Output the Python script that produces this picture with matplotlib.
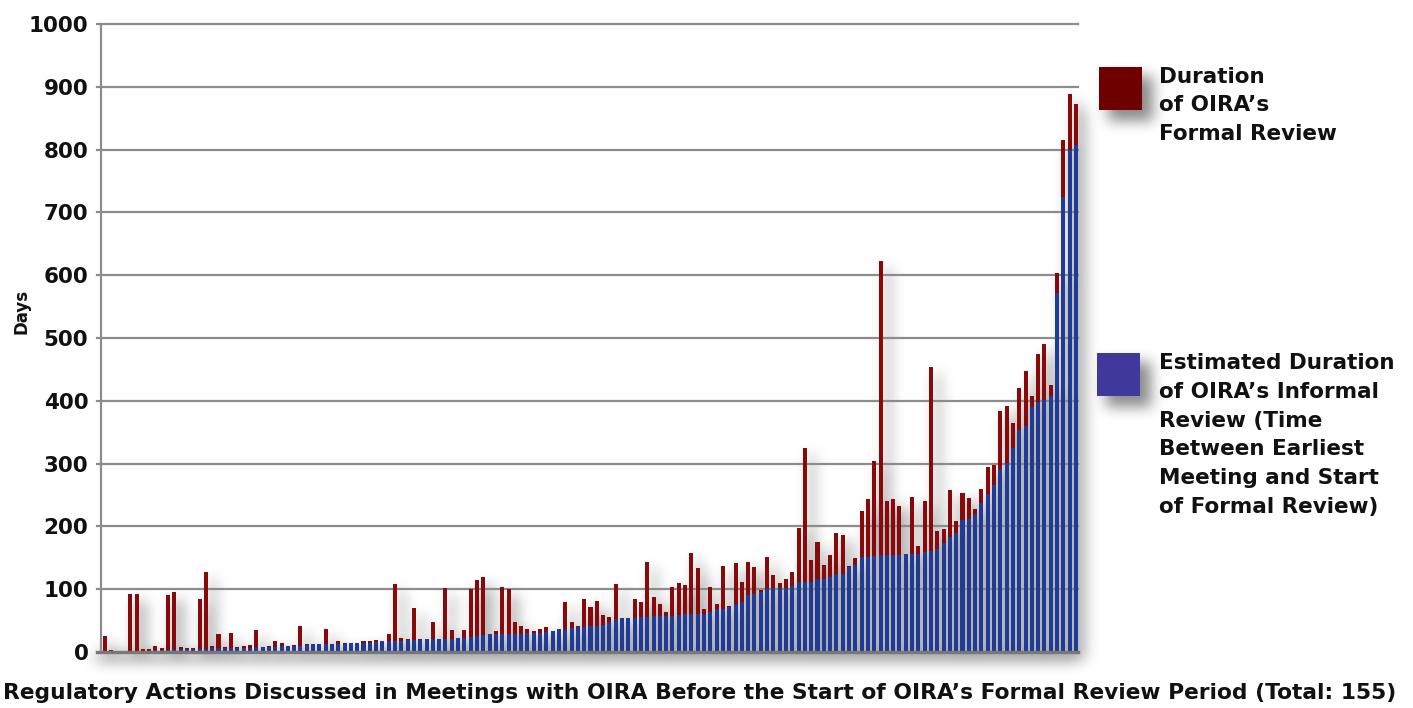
import numpy as np
import matplotlib
matplotlib.use("Agg")
import matplotlib.pyplot as plt
from matplotlib.patches import Rectangle

# ---------------- data ----------------
total_days = [
    25, 3, 1, 1, 92, 92, 4, 4, 10, 6, 91, 95, 8, 7, 7, 85, 128, 9, 28, 8, 31, 8, 9, 11, 35, 8,
    9, 17, 15, 10, 11, 42, 12, 12, 12, 36, 13, 17, 15, 15, 14, 18, 18, 19, 17, 29, 108, 23, 20, 70,
    20, 20, 48, 20, 102, 35, 23, 35, 100, 114, 119, 28, 34, 103, 101, 47, 41, 37, 33, 37, 40, 34, 36,
    79, 48, 42, 85,
    72, 82, 59, 56, 109, 54, 54, 85, 79, 143, 87, 77, 64, 103, 110, 106, 158, 134, 69, 104, 77, 137,
    73, 142, 112,
    144, 135, 98, 152, 122, 110, 116, 127, 198, 325, 147, 175, 139, 155, 189, 187, 137, 149, 224, 243,
    304, 622, 241, 244, 233,
    156, 247, 169, 240, 454, 193, 196, 258, 208, 253, 245, 227, 260, 295, 297, 384, 391, 365, 420, 447,
    407, 474, 490, 425,
    603, 816, 889, 873,
]
informal_days = [
    0, 1, 1, 1, 1, 1, 2, 2, 3, 3, 3, 4, 4, 4, 5, 5, 5, 6, 6, 6, 6, 7, 7, 7, 8, 8,
    8, 8, 9, 10, 10, 10, 11, 12, 12, 12, 13, 13, 13, 14, 14, 15, 15, 16, 17, 17, 17, 18, 19, 19,
    19, 20, 20, 20, 20, 21, 23, 23, 24, 25, 27, 28, 28, 28, 28, 28, 29, 30, 31, 31, 32, 34, 36,
    36, 38, 40, 40,
    41, 41, 43, 47, 52, 54, 54, 54, 55, 55, 57, 57, 57, 58, 59, 60, 60, 61, 61, 64, 69, 69, 71,
    77, 80,
    91, 93, 96, 100, 102, 102, 102, 105, 111, 111, 111, 116, 117, 120, 124, 125, 136, 139, 151, 152,
    153, 154, 154, 154, 154,
    156, 156, 156, 159, 161, 164, 173, 183, 189, 210, 211, 219, 237, 251, 266, 291, 301, 325, 354, 360,
    390, 398, 401, 407,
    571, 724, 799, 807,
]
formal_days = [t - i for t, i in zip(total_days, informal_days)]
y_ticks = [0, 100, 200, 300, 400, 500, 600, 700, 800, 900, 1000]
legend_formal = "Duration\nof OIRA\u2019s\nFormal Review"
legend_informal = ("Estimated Duration\nof OIRA\u2019s Informal\nReview (Time\n"
                   "Between Earliest\nMeeting and Start\nof Formal Review)")
x_title = ("Regulatory Actions Discussed in Meetings with OIRA Before the Start of "
           "OIRA\u2019s Formal Review Period (Total: 155)")
y_title = "Days"

# ---------------- style ----------------
RED = "#880909"
BLUE = "#1f3b96"
LEG_RED = "#6e0000"
LEG_BLUE = "#40389a"
GRID = "#8c8c8c"
W, H = 1413, 708
DPI = 100
plt.rcParams["font.family"] = ["DejaVu Sans"]
plt.rcParams["font.weight"] = "bold"

fig = plt.figure(figsize=(W / DPI, H / DPI), dpi=DPI)
fig.patch.set_facecolor("white")
n = len(total_days)
x = np.arange(1, n + 1)
px_per = (1076 - 105) / (n - 1)
left_px, right_px, bot_px, top_px = 101, 1078, 652, 24
ax = fig.add_axes([left_px / W, 1 - bot_px / H, (right_px - left_px) / W, (bot_px - top_px) / H])
ax.set_xlim(1 - (105 - left_px) / px_per, n + (right_px - 1076) / px_per)
ax.set_ylim(0, 1000)
ax.patch.set_alpha(0)

bw = 0.64
ax.bar(x, informal_days, width=bw, color=BLUE, zorder=3, linewidth=0)
ax.bar(x, formal_days, bottom=informal_days, width=bw, color=RED, zorder=3, linewidth=0)

for t in y_ticks[1:]:
    ax.axhline(t, xmin=-0.004, xmax=1, color=GRID, lw=1.6, zorder=1, clip_on=False)
ax.axhline(0, xmin=-0.004, xmax=1, color="#777777", lw=2.4, zorder=4, clip_on=False)

for s in ["top", "right", "bottom"]:
    ax.spines[s].set_visible(False)
ax.spines["left"].set_color(GRID)
ax.spines["left"].set_linewidth(1.6)
ax.set_xticks([])
ax.set_yticks(y_ticks)
ax.set_yticklabels([str(t) for t in y_ticks], fontsize=15.5, fontweight="bold", color="#111111")
ax.tick_params(axis="y", length=0, pad=9)

fig.text(700 / W, 1 - 693 / H, x_title, ha="center", va="center", fontsize=15.7,
         fontweight="bold", color="#111111")
fig.text(21 / W, 1 - 311 / H, y_title, ha="center", va="center", rotation=90, fontsize=12,
         fontweight="bold", color="#111111")

# legend squares and texts (figure coordinates)
sq = [(1099, 67, 43, LEG_RED), (1097, 353, 43, LEG_BLUE)]
for (sx, sy, ss, c) in sq:
    fig.patches.append(Rectangle((sx / W, 1 - (sy + ss) / H), ss / W, ss / H, transform=fig.transFigure,
                                 facecolor=c, edgecolor="none", zorder=3))
fig.text(1159 / W, 1 - 67 / H, legend_formal, ha="left", va="top", fontsize=15.5,
         fontweight="bold", color="#111111", linespacing=1.53)
fig.text(1159 / W, 1 - 353 / H, legend_informal, ha="left", va="top", fontsize=15.5,
         fontweight="bold", color="#111111", linespacing=1.55)

# ---------------- blurred drop shadow (computed from the bars) ----------------
mask = np.zeros((H, W))
off = 7
trans = ax.transData
for xi, tot in zip(x, total_days):
    (x0, y0) = trans.transform((xi - bw / 2, 0))
    (x1, y1) = trans.transform((xi + bw / 2, tot))
    c0, c1 = int(round(x0)) + off, int(round(x1)) + off
    r0, r1 = int(round(H - y1)) + off, int(round(H - y0)) + off
    mask[max(r0, 0):min(r1, H), max(c0, 0):min(c1, W)] = 1.0
(ax0, ay0) = trans.transform((ax.get_xlim()[0], 0))
(ax1, _) = trans.transform((ax.get_xlim()[1], 0))
mask[int(H - ay0) + 2:int(H - ay0) + 9, int(ax0) - 4:int(ax1)] = 1.0
for (sx, sy, ss, c) in sq:
    mask[sy + off + 2:sy + ss + off + 4, sx + off + 2:sx + ss + off + 4] = 1.0


def box_blur(a, r, axis):
    pad = [(0, 0), (0, 0)]
    pad[axis] = (r + 1, r)
    p = np.pad(a, pad, mode="constant")
    cs = np.cumsum(p, axis=axis)
    if axis == 0:
        out = cs[2 * r + 1:, :] - cs[:-2 * r - 1, :]
    else:
        out = cs[:, 2 * r + 1:] - cs[:, :-2 * r - 1]
    return out / (2 * r + 1)


blur = mask
for _ in range(3):
    blur = box_blur(blur, 6, 0)
    blur = box_blur(blur, 6, 1)
alpha = np.clip(blur * 0.7, 0, 1)
rgba = np.zeros((H, W, 4))
rgba[..., :3] = 0.35
rgba[..., 3] = alpha
fig.figimage(rgba, xo=0, yo=0, origin="upper", zorder=-1)

fig.savefig("out.png", dpi=DPI, facecolor="white")
